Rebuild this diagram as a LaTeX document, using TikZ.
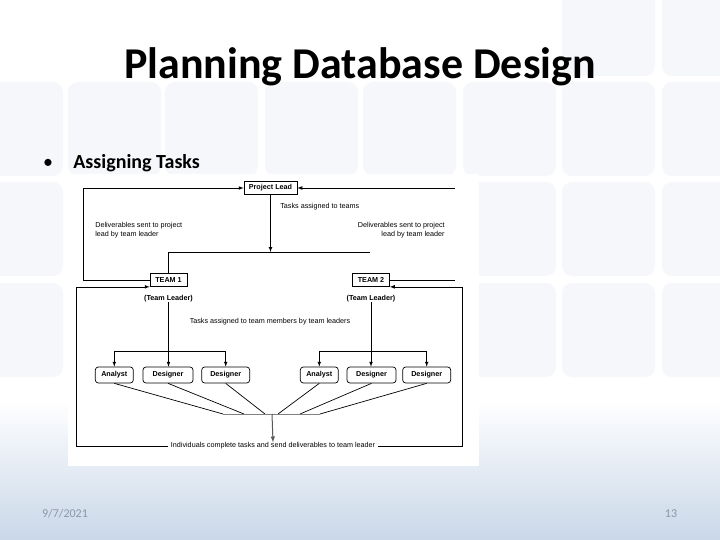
\documentclass[tikz,border=0pt]{standalone}
\usepackage{fontspec}
\setmainfont{Liberation Sans}
\newfontfamily\slidefont{Carlito}
\usetikzlibrary{positioning}
\definecolor{bgblue}{HTML}{C9D7E8}
\definecolor{tileblue}{HTML}{E4EAF2}
\definecolor{footgray}{HTML}{8C96A8}
\tikzset{leadbox/.style={draw,line width=0.7pt,font=\fontsize{7.2}{8}\selectfont\bfseries,inner sep=1pt,minimum height=13pt},
  member/.style={draw,line width=0.7pt,rounded corners=3pt,font=\fontsize{7.2}{8}\selectfont\bfseries,inner sep=1pt,minimum height=16pt},
  note/.style={font=\fontsize{7.2}{8.8}\selectfont,inner sep=0pt},
  tile/.style={fill=tileblue,rounded corners=10pt,opacity=0.35}
}

\begin{document}
\begin{tikzpicture}[x=1pt,y=-1pt,line width=0.7pt]

  % Slide background
    \useasboundingbox (0,0) rectangle (720,540);
    \fill[white] (0,0) rectangle (720,540);
    \foreach \x in {-30,68,165,265,363,463,562,662}
      \foreach \y in {82,182,283}
        \fill[tile] (\x,\y) rectangle ++(93,94);
    \foreach \x in {562,662}
      \fill[tile] (\x,-20) rectangle ++(93,96);
    \shade[top color=white,bottom color=bgblue] (0,400) rectangle (720,540);

    % Slide texts
    \node[font=\slidefont\bfseries\fontsize{44}{52}\selectfont,anchor=base] (title) at (360,79) {Planning Database Design};
    \node[font=\slidefont\bfseries\fontsize{20}{24}\selectfont,anchor=base west,inner sep=0pt] (bullet) at (73,169) {Assigning Tasks};
    \node[font=\slidefont\fontsize{20}{24}\selectfont,anchor=base,inner sep=0pt] (dot) at (48,169) {\textbullet};
    \node[font=\slidefont\fontsize{12}{14}\selectfont,text=footgray] (date) at (65,514) {9/7/2021};
    \node[font=\slidefont\fontsize{12}{14}\selectfont,text=footgray] (page) at (671,514) {13};

    % Figure panel
    \fill[white] (68,174) rectangle (479,466);

    % Project lead and teams
    \node[leadbox,minimum width=53pt] (lead) at (270.5,188) {Project Lead};
    \node[leadbox,minimum width=37pt] (team1) at (168.5,280) {TEAM 1};
    \node[leadbox,minimum width=37pt] (team2) at (371,280) {TEAM 2};
    \node[note,font=\fontsize{7.2}{8}\selectfont\bfseries,below=8pt of team1] (tl1) {(Team Leader)};
    \node[note,font=\fontsize{7.2}{8}\selectfont\bfseries,below=8pt of team2] (tl2) {(Team Leader)};

    % Team members
    \node[member,minimum width=50pt] (d1) at (168,375) {Designer};
    \node[member,minimum width=38pt,left=9pt of d1] (a1) {Analyst};
    \node[member,minimum width=48pt,right=8pt of d1] (d2) {Designer};
    \node[member,minimum width=49pt] (d3) at (371.5,375) {Designer};
    \node[member,minimum width=38pt,left=8pt of d3] (a2) {Analyst};
    \node[member,minimum width=48pt,right=6pt of d3] (d4) {Designer};

    % Labels
    \node[note,anchor=west] (t1) at (280,207) {Tasks assigned to teams};
    \node[note,anchor=west,align=left] (del1) at (95,230.5) {Deliverables sent to project\\lead by team leader};
    \node[note,anchor=east,align=right] (del2) at (445,230.5) {Deliverables sent to project\\lead by team leader};
    \node[note] (t2) at (270,322) {Tasks assigned to team members by team leaders};
    \node[note,inner xsep=3pt] (done) at (273,446) {Individuals complete tasks and send deliverables to team leader};

    % Project lead to teams
    \coordinate (split) at (370,252);
    \draw[-latex] (lead.south) -- (lead.south |- split);
    \draw (team1.north) |- (split);

    % Teams back to project lead
    \coordinate (r1) at (455,188);
    \coordinate (r2) at (455,280);
    \draw[-latex] (team1.west) -- ++(-66,0) |- (lead.west);
    \draw[-latex] (r1) -- (lead.east);
    \draw (team2.east) -- (r2);

    % Team leaders to members
    \draw[-latex] (tl1.south) -- (tl1.south |- d1.north);
    \draw[latex-latex] (a1.north) -- ++(0,-15) -| (d2.north);
    \draw[-latex] (tl2.south) -- (tl2.south |- d3.north);
    \draw[latex-latex] (a2.north) -- ++(0,-15) -| (d4.north);

    % Members to team leaders
    \foreach \m/\x in {a1/223,d1/244,d2/265,a2/278,d3/300,d4/320}{
      \coordinate (j\m) at (\x,414);
      \draw (\m.south) -- (j\m);
    }
    \draw[gray] (ja1) -- (jd4);
    \coordinate (jmid) at (272,414);
    \draw[-latex,line width=1pt,gray!70!black] (jmid) -- (done.north);
    \coordinate (cl) at (76,446);
    \coordinate (cr) at (462,446);
    \draw[-latex] (done.west) -- (cl) |- (team1.south west);
    \draw[-latex] (done.east) -- (cr) |- (team2.south east);

  \end{tikzpicture}
\end{document}
